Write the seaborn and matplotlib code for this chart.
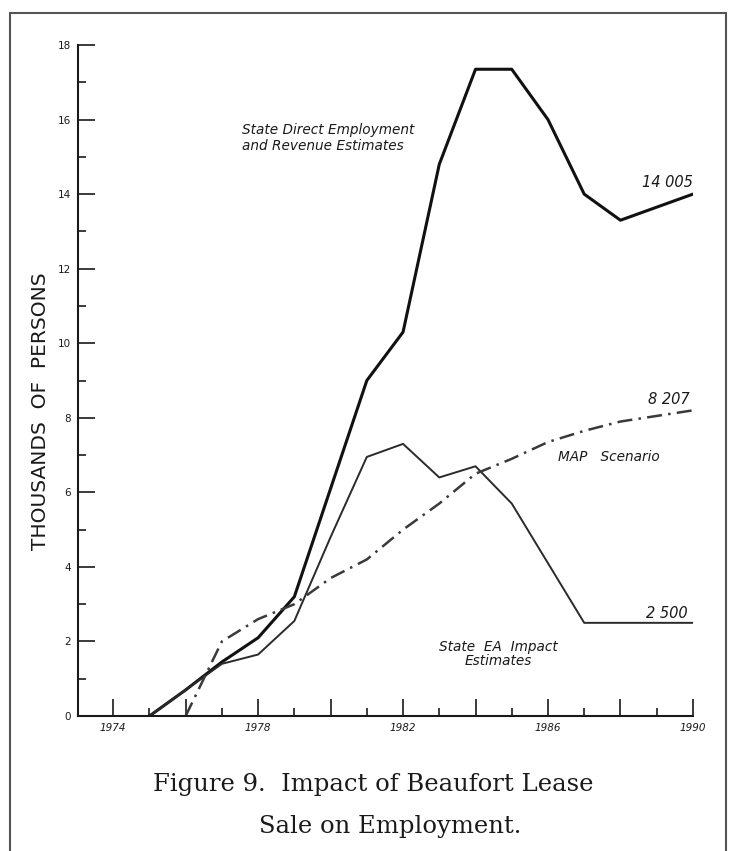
import pandas as pd
import matplotlib.pyplot as plt
import seaborn as sns
from matplotlib.patches import Rectangle
from matplotlib.ticker import MultipleLocator, FuncFormatter

# Values (thousands of persons)
years_direct = [1975, 1976, 1977, 1978, 1979, 1980, 1981, 1982, 1983, 1984, 1985, 1986, 1987, 1988, 1989, 1990]
state_direct = [0, 0.7, 1.45, 2.1, 3.2, 6.1, 9.0, 10.3, 14.8, 17.35, 17.35, 16.0, 14.0, 13.3, 13.65, 14.0]

years_ea = [1975, 1976, 1977, 1978, 1979, 1980, 1981, 1982, 1983, 1984, 1985, 1986, 1987, 1988, 1989, 1990]
state_ea = [0, 0.7, 1.4, 1.65, 2.55, 4.8, 6.95, 7.3, 6.4, 6.7, 5.7, 4.1, 2.5, 2.5, 2.5, 2.5]

years_map = [1976, 1977, 1978, 1979, 1980, 1981, 1982, 1983, 1984, 1985, 1986, 1987, 1988, 1989, 1990]
map_scenario = [0, 2.0, 2.6, 3.0, 3.7, 4.2, 5.0, 5.7, 6.5, 6.9, 7.35, 7.65, 7.9, 8.05, 8.2]

end_labels = ["14 005", "8 207", "2 500"]

direct_df = pd.DataFrame({"year": years_direct, "persons": state_direct})
ea_df = pd.DataFrame({"year": years_ea, "persons": state_ea})
map_df = pd.DataFrame({"year": years_map, "persons": map_scenario})

sns.set_style("ticks")
plt.rcParams['font.family'] = ['DejaVu Sans']

fig = plt.figure(figsize=(7.32, 8.51), dpi=100)
ax = fig.add_axes([0.1066, 0.1586, 0.840, 0.7885])

ink = "#1a1a1a"
sns.lineplot(data=direct_df, x="year", y="persons", ax=ax, color="#111111", linewidth=2.2)
sns.lineplot(data=ea_df, x="year", y="persons", ax=ax, color="#2a2a2a", linewidth=1.4)
sns.lineplot(data=map_df, x="year", y="persons", ax=ax, color="#3a3a3a", linewidth=1.8,
             linestyle=(0, (6, 2.5, 1, 2.5)))

ax.set_xlim(1973.03, 1990)
ax.set_ylim(0, 18)
sns.despine(ax=ax)
for side in ["left", "bottom"]:
    ax.spines[side].set_linewidth(1.5)
    ax.spines[side].set_color(ink)

ax.xaxis.set_major_locator(MultipleLocator(2))
ax.xaxis.set_minor_locator(MultipleLocator(1))
ax.yaxis.set_major_locator(MultipleLocator(2))
ax.yaxis.set_minor_locator(MultipleLocator(1))
ax.xaxis.set_major_formatter(FuncFormatter(lambda v, p: f"{int(v)}" if int(v) % 4 == 2 else ""))
ax.tick_params(which="major", direction="in", length=12.5, width=1.2, color=ink, labelsize=7.5, labelcolor=ink, pad=5)
ax.tick_params(which="minor", direction="in", length=5.5, width=1.2, color=ink)
for lbl in ax.get_xticklabels():
    lbl.set_fontstyle("italic")

ax.set_xlabel("")
ax.set_ylabel("THOUSANDS  OF  PERSONS", fontsize=14.5, color=ink)
ax.yaxis.set_label_coords(-0.046, 0.455)

# annotations
note = dict(fontsize=9.8, style="italic", color=ink)
ax.text(1977.55, 15.9, "State Direct Employment\nand Revenue Estimates", va="top", ha="left", linespacing=1.15, **note)
ax.text(1990, 14.1, end_labels[0], ha="right", va="bottom", fontsize=10.5, style="italic", color=ink)
ax.text(1989.9, 8.5, end_labels[1], ha="right", va="center", fontsize=10.5, style="italic", color=ink)
ax.text(1986.27, 6.95, "MAP   Scenario", ha="left", va="center", **note)
ax.text(1989.85, 2.75, end_labels[2], ha="right", va="center", fontsize=10.5, style="italic", color=ink)
ax.text(1984.63, 2.05, "State  EA  Impact\nEstimates", ha="center", va="top", linespacing=1.05, **note)

# caption
fig.text(0.51, 0.0705, "Figure 9.  Impact of Beaufort Lease", ha="center", va="baseline",
         family="DejaVu Serif", fontsize=17.5, color=ink)
fig.text(0.533, 0.021, "Sale on Employment.", ha="center", va="baseline",
         family="DejaVu Serif", fontsize=17.5, color=ink)

# page border
fig.patches.append(Rectangle((0.0137, -0.01), 0.978, 0.995, transform=fig.transFigure,
                             fill=False, lw=1.5, ec="#555555"))

fig.savefig("out.png", dpi=100, facecolor="white")
